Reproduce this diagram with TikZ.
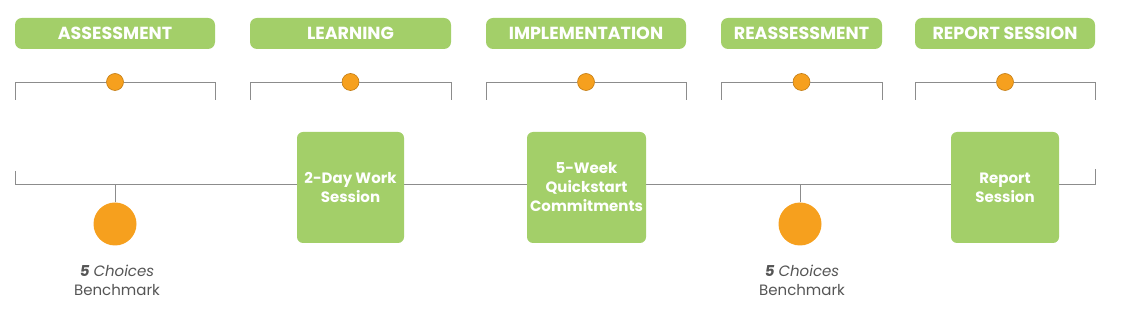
\documentclass[tikz,border=0pt]{standalone}
\usepackage{fontspec}
\setmainfont{Poppins}
\definecolor{leaf}{HTML}{A3CF69}
\definecolor{amber}{HTML}{F6A01E}
\definecolor{amberdark}{HTML}{C27B12}
\definecolor{rulegray}{HTML}{8C8C8C}
\definecolor{ink}{HTML}{555555}
\begin{document}
\begin{tikzpicture}[x=1pt, y=-1pt,
  phase/.style={fill=leaf, rounded corners=7pt, text=white, font=\fontsize{17.5}{20}\selectfont\bfseries,
    minimum height=31pt, inner sep=0pt},
  stepbox/.style={fill=leaf, rounded corners=6pt, text=white, font=\fontsize{15}{19}\selectfont\bfseries,
    align=center, inner sep=0pt},
  dot/.style={circle, fill=amber, draw=amberdark, line width=0.6pt, minimum size=17pt, inner sep=0pt},
  bigdot/.style={circle, fill=amber, minimum size=43pt, inner sep=0pt},
  bench/.style={font=\fontsize{15}{19}\selectfont, text=ink, align=center},
  line/.style={draw=rulegray, line width=0.9pt}
]
\useasboundingbox (0,0) rectangle (1124,336);

%% Phase headers with brackets
\foreach \n/\xa/\xb/\t in {asm/15/215/ASSESSMENT, lrn/250/451/LEARNING,
    imp/486/686/IMPLEMENTATION, rea/721/882/REASSESSMENT, rep/915/1095/REPORT SESSION} {
  \node[phase, minimum width={\xb-\xa}] (\n) at ({(\xa+\xb)/2},33.5) {\t};
  \coordinate (\n-l) at (\xa,100);
  \coordinate (\n-r) at (\xb,100);
  \node[dot] (\n-dot) at ({(\xa+\xb)/2},82) {};
  \draw[line] (\n-l) |- (\n-dot) -| (\n-r);
}

%% Timeline
\coordinate (tl-l) at (15,171);
\coordinate (tl) at (15,184);
\coordinate (tl-r) at (1095,169);
\draw[line] (tl-l) -- (tl) -| (tl-r);

%% Steps on the timeline
\node[stepbox, minimum width=107pt, minimum height=111pt] (work) at (350.5,187.5) {2-Day Work\\Session};
\node[stepbox, minimum width=119pt, minimum height=111pt] (quick) at (586.5,187.5) {5-Week\\Quickstart\\Commitments};
\node[stepbox, minimum width=108pt, minimum height=111pt] (report) at (1005,187.5) {Report\\Session};

%% Benchmarks
\foreach \n/\x in {bm1/115, bm2/800} {
  \node[bigdot] (\n) at (\x,224) {};
  \draw[line] (\n) -- (\n |- tl);
  \node[bench] (\n-txt) at (\x+2,280.5) {\textbf{\textit{5}} \textit{Choices}\\Benchmark};
}
\end{tikzpicture}
\end{document}
